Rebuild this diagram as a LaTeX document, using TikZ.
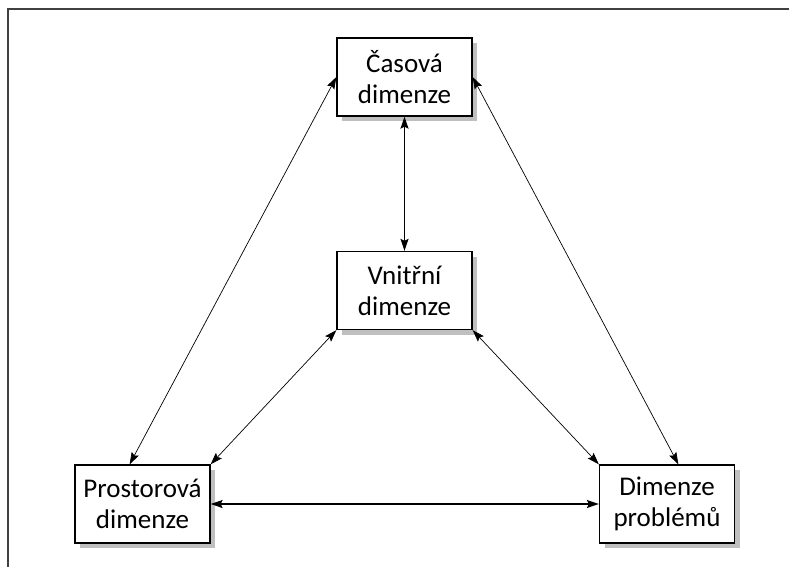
\documentclass[tikz,border=0pt]{standalone}
\usepackage{fontspec}
\setmainfont{Carlito}
\usetikzlibrary{arrows.meta,shadows}

\def\tip{{Stealth[length=12pt,width=8pt,inset=2pt]}}

\begin{document}
\begin{tikzpicture}[x=1pt,y=-1pt]
  \tikzset{dimension/.style={draw,fill=white,line width=1.3pt,minimum width=135pt,minimum height=78pt,align=center,
      font=\fontsize{27}{31}\selectfont,
      drop shadow={shadow xshift=5pt,shadow yshift=-5pt,fill=black!25,opacity=1}},
    link/.style={\tip-\tip,line width=.7pt},
    strong/.style={\tip-\tip,line width=1.4pt}}
  \useasboundingbox (0,0) rectangle (789,567);

  % frame
  \draw[line width=2pt,black!75] (8,567) -- (8,9) -- (789,9);

  \node[dimension] at (404.5,77) (casova) {Časová\\dimenze};
  \node[dimension] at (404.5,290.5) (vnitrni) {Vnitřní\\dimenze};
  \node[dimension] at (142.5,504) (prostorova) {Prostorová\\dimenze};
  \node[dimension] at (667,504) (problemy) {Dimenze\\problémů};

  \draw[strong] (casova.south) -- (vnitrni.north);
  \draw[strong] (prostorova.east) -- (problemy.west);
  \draw[link] (casova.west) -- (prostorova.108);
  \draw[link] (casova.east) -- (problemy.74);
  \draw[link] (vnitrni.south west) -- (prostorova.north east);
  \draw[link] (vnitrni.south east) -- (problemy.north west);
\end{tikzpicture}
\end{document}
